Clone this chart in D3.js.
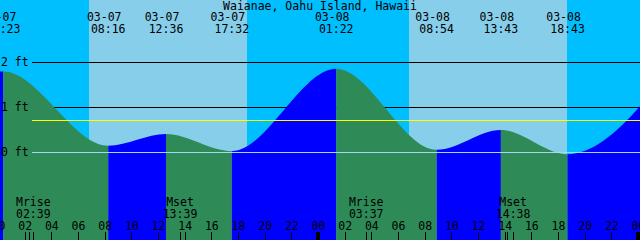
<!DOCTYPE html>
<html>
<head>
<meta charset="utf-8">
<script src="https://cdn.jsdelivr.net/npm/d3@7"></script>
<style>
  body { margin: 0; background: #fff; }
  svg { display: block; }
  text { font-family: "DejaVu Sans Mono", monospace; font-size: 11.5px; fill: #000; }
</style>
</head>
<body>
<div id="chart"></div>
<script>
// Chart data
const title = "Waianae, Oahu Island, Hawaii";
const viewStart = "2023-03-07 00:09";
const viewEnd = "2023-03-09 00:09";

// high / low tides (first and last are just outside the view, for the curve shape)
const tideTimes = ["2023-03-06 16:30", "2023-03-07 00:23", "2023-03-07 08:16", "2023-03-07 12:36",
                   "2023-03-07 17:32", "2023-03-08 01:22", "2023-03-08 08:54", "2023-03-08 13:43",
                   "2023-03-08 18:43", "2023-03-09 02:50"];
const tideHeights = [0.05, 1.80, 0.15, 0.41, 0.03, 1.86, 0.06, 0.50, -0.04, 2.0];

const sunTimes = ["2023-03-07 06:49", "2023-03-07 18:39", "2023-03-08 06:49", "2023-03-08 18:39"];

const moonNames = ["Mrise", "Mset", "Mrise", "Mset"];
const moonTimes = ["2023-03-07 02:39", "2023-03-07 13:39", "2023-03-08 03:37", "2023-03-08 14:38"];
const otherMarks = ["2023-03-07 02:20", "2023-03-08 14:12"];

const depthLevels = [1, 2];
const depthLabels = [0, 1, 2];
const meanSeaLevel = 0.71;

const parse = d3.utcParse("%Y-%m-%d %H:%M");

function drawChart() {
    const width = 640, height = 240;

    const svg = d3.select("#chart")
        .append("svg")
        .attr("width", width)
        .attr("height", height);

    const x = d3.scaleUtc()
        .domain([parse(viewStart), parse(viewEnd)])
        .range([0, width]);

    const y = d3.scaleLinear()
        .domain([0, 2])
        .range([152.5, 62.5]);

    // Sky background: night / day
    const edges = [parse(viewStart), ...sunTimes.map(parse), parse(viewEnd)];
    for (let i = 0; i < edges.length - 1; i++) {
        svg.append("rect")
            .attr("x", x(edges[i]))
            .attr("y", 0)
            .attr("width", x(edges[i + 1]) - x(edges[i]))
            .attr("height", height)
            .attr("fill", i % 2 === 0 ? "#00bfff" : "#87ceeb")
            .attr("shape-rendering", "crispEdges");
    }

    // Depth lines behind the water
    svg.selectAll("line.depth")
        .data(depthLevels)
        .enter()
        .append("line")
        .attr("class", "depth")
        .attr("x1", 32)
        .attr("x2", width)
        .attr("y1", d => y(d))
        .attr("y2", d => y(d))
        .attr("stroke", "#000")
        .attr("shape-rendering", "crispEdges");

    // Tide curve, blue while rising and green while falling
    const tides = tideTimes.map((t, i) => ({ t: parse(t), h: tideHeights[i] }));

    const area = d3.area()
        .x(d => x(d.t))
        .y0(height)
        .y1(d => y(d.h))
        .curve(d3.curveMonotoneX);

    const defs = svg.append("defs");
    for (let i = 0; i < tides.length - 1; i++) {
        const rising = tides[i + 1].h > tides[i].h;
        defs.append("clipPath")
            .attr("id", "seg" + i)
            .append("rect")
            .attr("x", x(tides[i].t))
            .attr("y", 0)
            .attr("width", x(tides[i + 1].t) - x(tides[i].t))
            .attr("height", height);

        svg.append("path")
            .datum(tides)
            .attr("d", area)
            .attr("clip-path", `url(#seg${i})`)
            .attr("fill", rising ? "#0000ff" : "#2e8b57");
    }

    // Datum and mean sea level
    svg.append("line")
        .attr("x1", 32).attr("x2", width)
        .attr("y1", y(0)).attr("y2", y(0))
        .attr("stroke", "#a8d8ef")
        .attr("shape-rendering", "crispEdges");

    svg.append("line")
        .attr("x1", 32).attr("x2", width)
        .attr("y1", y(meanSeaLevel)).attr("y2", y(meanSeaLevel))
        .attr("stroke", "#ffff00")
        .attr("shape-rendering", "crispEdges");

    // Depth labels
    svg.selectAll("text.depth")
        .data(depthLabels)
        .enter()
        .append("text")
        .attr("class", "depth")
        .attr("x", 1)
        .attr("y", d => y(d) + 3.8)
        .text(d => d + " ft");

    // Title
    svg.append("text")
        .attr("x", width / 2)
        .attr("y", 9.5)
        .attr("text-anchor", "middle")
        .text(title);

    // High / low labels at the top
    const inView = tides.filter(d => d.t >= x.domain()[0] && d.t <= x.domain()[1]);
    const fmtDate = d3.utcFormat("%m-%d");
    const fmtTime = d3.utcFormat("%H:%M");

    svg.selectAll("text.tdate")
        .data(inView)
        .enter()
        .append("text")
        .attr("class", "tdate")
        .attr("x", d => x(d.t) - 4)
        .attr("y", 21)
        .attr("text-anchor", "middle")
        .text(d => fmtDate(d.t));

    svg.selectAll("text.ttime")
        .data(inView)
        .enter()
        .append("text")
        .attr("class", "ttime")
        .attr("x", d => x(d.t))
        .attr("y", 33)
        .attr("text-anchor", "middle")
        .text(d => fmtTime(d.t));

    // Moon rise / set labels
    const moon = moonTimes.map((t, i) => ({ t: parse(t), name: moonNames[i] }));

    svg.selectAll("text.mname")
        .data(moon)
        .enter()
        .append("text")
        .attr("class", "mname")
        .attr("x", d => x(d.t))
        .attr("y", 206)
        .attr("text-anchor", "middle")
        .text(d => d.name);

    svg.selectAll("text.mtime")
        .data(moon)
        .enter()
        .append("text")
        .attr("class", "mtime")
        .attr("x", d => x(d.t))
        .attr("y", 217.5)
        .attr("text-anchor", "middle")
        .text(d => fmtTime(d.t));

    // Hour axis along the bottom (starts at the midnight just left of the view)
    const firstMidnight = d3.utcDay.floor(x.domain()[0]);
    const hourTicks = d3.utcHour.every(2).range(firstMidnight, x.domain()[1]);
    const axis = svg.append("g")
        .attr("transform", `translate(0,${height})`)
        .call(d3.axisTop(x)
            .tickValues(hourTicks)
            .tickFormat(d3.utcFormat("%H"))
            .tickSize(8)
            .tickPadding(2));
    axis.select(".domain").remove();
    axis.attr("font-family", null).attr("font-size", null);
    axis.selectAll("line").attr("stroke", "#000").attr("shape-rendering", "crispEdges");

    // Extra marks for moon events
    const marks = [...moonTimes, ...otherMarks].map(parse);
    svg.selectAll("line.mark")
        .data(marks)
        .enter()
        .append("line")
        .attr("class", "mark")
        .attr("x1", d => Math.round(x(d)) + 0.5)
        .attr("x2", d => Math.round(x(d)) + 0.5)
        .attr("y1", height - 8)
        .attr("y2", height)
        .attr("stroke", "#000");

    // Thick ticks at midnight
    svg.selectAll("rect.midnight")
        .data(d3.utcDay.range(firstMidnight, x.domain()[1]))
        .enter()
        .append("rect")
        .attr("class", "midnight")
        .attr("x", d => x(d) - 2)
        .attr("y", height - 8)
        .attr("width", 4)
        .attr("height", 8)
        .attr("fill", "#000")
        .attr("shape-rendering", "crispEdges");
}

window.addEventListener('DOMContentLoaded', drawChart);
</script>
</body>
</html>
